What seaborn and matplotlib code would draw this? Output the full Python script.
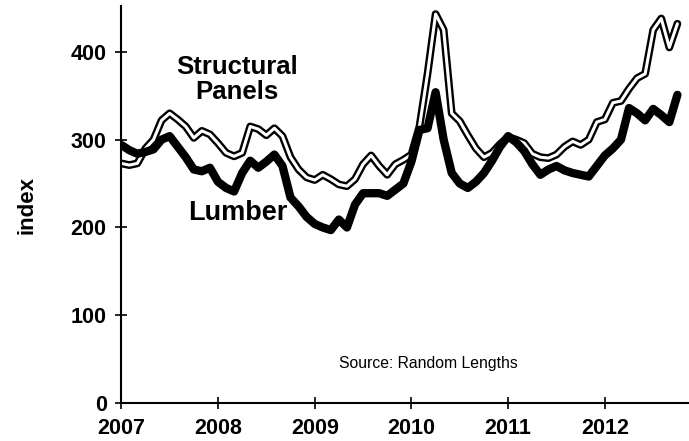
import numpy as np
import pandas as pd
import matplotlib
matplotlib.use("Agg")
import matplotlib.pyplot as plt
import seaborn as sns

# monthly index values, Jan 2007 - Oct 2012
lumber = [294, 288, 284, 286, 289, 300, 304, 292, 280, 266, 264, 268,
          252, 245, 241, 262, 276, 268, 275, 283, 270, 234, 224, 212,
          204, 200, 197, 209, 200, 226, 239, 239, 239, 236, 243, 250,
          275, 311, 313, 354, 300, 262, 250, 245, 252, 262, 276, 292,
          304, 297, 287, 272, 260, 266, 270, 265, 262, 260, 258, 270,
          282, 290, 300, 336, 330, 322, 335, 328, 320, 351]
panels = [273, 271, 273, 290, 300, 322, 330, 323, 315, 302, 310, 306,
          296, 285, 281, 285, 315, 312, 305, 313, 304, 280, 266, 257,
          254, 260, 255, 249, 247, 255, 272, 282, 270, 260, 272, 277,
          283, 315, 375, 443, 425, 330, 321, 305, 290, 280, 285, 295,
          303, 300, 296, 284, 280, 279, 283, 292, 298, 294, 300, 320,
          323, 342, 344, 358, 370, 375, 425, 438, 405, 432]
year_ticks = [2007, 2008, 2009, 2010, 2011, 2012]
y_ticks = [0, 100, 200, 300, 400]

df = pd.DataFrame({
    "year": 2007 + np.arange(len(lumber)) / 12,
    "Lumber": lumber,
    "Structural Panels": panels,
})

sns.set_style("white")
plt.rcParams["font.family"] = ["Liberation Sans", "DejaVu Sans"]
plt.rcParams["text.color"] = "black"
plt.rcParams["axes.labelcolor"] = "black"
plt.rcParams["xtick.color"] = "black"
plt.rcParams["ytick.color"] = "black"

fig = plt.figure(figsize=(6.89, 4.41), dpi=100)
ax = fig.add_axes([0.176, 0.086, 0.824, 0.90])

# panels: black outline with white core
sns.lineplot(data=df, x="year", y="Structural Panels", ax=ax, color="black", lw=5.6)
sns.lineplot(data=df, x="year", y="Structural Panels", ax=ax, color="white", lw=2.2)
sns.lineplot(data=df, x="year", y="Lumber", ax=ax, color="black", lw=6.0)

ax.set_xlim(2007, 2012.87)
ax.set_ylim(0, 452)
ax.set_xticks(year_ticks)
ax.set_yticks(y_ticks)
ax.set_xticklabels([str(y) for y in year_ticks])
ax.tick_params(axis="both", bottom=True, left=True, direction="inout", length=9,
               width=1.2, labelsize=15.5, color="black", pad=6)
for lab in ax.get_xticklabels() + ax.get_yticklabels():
    lab.set_fontweight("bold")

for s in ["top", "right"]:
    ax.spines[s].set_visible(False)
for s in ["left", "bottom"]:
    ax.spines[s].set_color("black")
    ax.spines[s].set_linewidth(1.5)

ax.set_xlabel("")
ax.set_ylabel("index", fontsize=16, fontweight="bold", labelpad=24)

ax.text(2008.2, 368, "Structural\nPanels", ha="center", va="center",
        fontsize=18.5, fontweight="bold", linespacing=1.05)
ax.text(2008.2, 216, "Lumber", ha="center", va="center",
        fontsize=19.5, fontweight="bold")
ax.text(2010.18, 45, "Source: Random Lengths", ha="center", va="center", fontsize=11.3)

fig.savefig("out.png", dpi=100)
